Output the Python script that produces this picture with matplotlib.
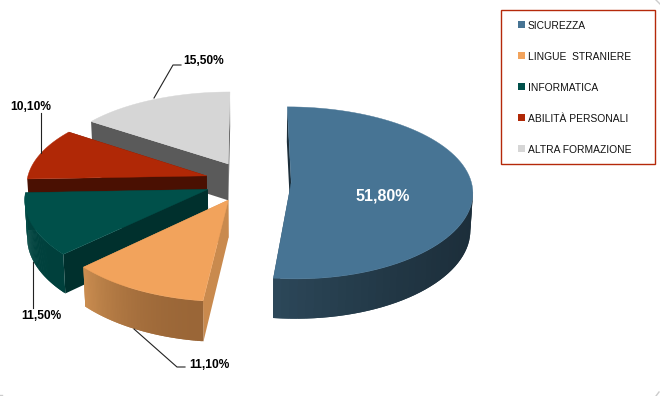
import numpy as np
import matplotlib
matplotlib.use('Agg')
import matplotlib.pyplot as plt
from matplotlib.patches import Polygon, Rectangle

plt.rcParams['font.family'] = ['Liberation Sans', 'DejaVu Sans']

categories = ['SICUREZZA', 'LINGUE  STRANIERE', 'INFORMATICA', 'ABILITÀ PERSONALI', 'ALTRA FORMAZIONE']
values = [51.8, 11.1, 11.5, 10.1, 15.5]

top_colors = ['#477494', '#f2a35c', '#00504a', '#b02806', '#d6d6d6']
face_colors = ['#1c2e3a', '#c98a4e', '#00302d', '#4a1002', '#5a5a5a']
side_left = ['#2c4759', '#ca8d50', '#004a45', '#7a1b04', '#8a8a8a']
side_right = ['#1c2e3a', '#9a6637', '#00403c', '#7a1b04', '#8a8a8a']

# label text position, leader line (pixels)
label_pos = [(383, 196), (209, 365), (41, 316), (31, 107), (204, 61)]
leaders = [None,
           [(134, 329), (177, 367), (185, 367)],
           [(33, 262), (33, 308)],
           [(41, 113), (41, 153)],
           [(154, 98), (173, 65), (181, 65)]]

# projection of the pie
cx, cy = 248, 181.4
R, A = 180, 84.5
persp_x = 0.10
persp_y = 0.12
depth = 37
explode = 0.24


def project(X, Y, z=0.0):
    sx = 1 / (1 + persp_x * Y)
    sy = 1 / (1 + persp_y * Y)
    x = cx + R * X * sx * (1 - 0.012 * z / 40)
    y = cy - A * Y * sy + z * (sy * 0.55 + 0.45)
    return x, y


def lerp_col(c1, c2, t):
    a = np.array(matplotlib.colors.to_rgb(c1))
    b = np.array(matplotlib.colors.to_rgb(c2))
    return a + (b - a) * t


fig = plt.figure(figsize=(6.6, 3.96), dpi=100)
ax = fig.add_axes([0, 0, 1, 1])
ax.set_xlim(0, 660)
ax.set_ylim(396, 0)
ax.axis('off')

# clockwise angle from the top
edges = np.cumsum([0] + values) / 100 * 2 * np.pi
slices = []
for i in range(len(values)):
    mid = (edges[i] + edges[i + 1]) / 2
    ox, oy = explode * np.sin(mid), explode * np.cos(mid)
    a = np.linspace(edges[i], edges[i + 1], 80)
    slices.append((ox, oy, a, ox + np.sin(a), oy + np.cos(a)))

# back to front
for i in [4, 3, 0, 2, 1]:
    ox, oy, a, gx, gy = slices[i]
    # straight faces
    for k in (0, -1):
        xa, ya = project(ox, oy)
        xb, yb = project(gx[k], gy[k])
        xc, yc = project(gx[k], gy[k], depth)
        xd, yd = project(ox, oy, depth)
        ax.add_patch(Polygon([(xa, ya), (xb, yb), (xc, yc), (xd, yd)], fc=face_colors[i], ec='none'))
    # outer wall, each piece overlaps the next so no seams show
    visible = np.nonzero(np.cos(a) <= -0.05)[0]
    for j in visible[:-1]:
        n = min(j + 3, len(gx))
        upper = [project(gx[m], gy[m]) for m in range(j, n)]
        lower = [project(gx[m], gy[m], depth) for m in range(n - 1, j - 1, -1)]
        t = (j - visible[0]) / max(len(visible) - 2, 1)
        ax.add_patch(Polygon(upper + lower, fc=lerp_col(side_right[i], side_left[i], t ** 2), ec='none'))
    tx, ty = project(gx, gy)
    ax0, ay0 = project(ox, oy)
    ax.add_patch(Polygon(np.column_stack([np.r_[ax0, tx], np.r_[ay0, ty]]), fc=top_colors[i], ec=top_colors[i], lw=0.3))

# labels
for i, v in enumerate(values):
    txt = ('%.2f%%' % v).replace('.', ',')
    if i == 0:
        ax.text(*label_pos[i], txt, color='white', fontsize=11.5, fontweight='bold', ha='center', va='center')
    else:
        ax.text(*label_pos[i], txt, color='black', fontsize=8.64, fontweight='bold', ha='center', va='center')
    if leaders[i]:
        pts = np.array(leaders[i])
        ax.plot(pts[:, 0], pts[:, 1], color='#222222', lw=0.8)

# legend box
ax.add_patch(Rectangle((500.5, 9.5), 154, 154, fc='white', ec='#b5290a', lw=1))
for i, name in enumerate(categories):
    y = 25 + 31 * i
    ax.add_patch(Rectangle((518, y - 4), 7, 7, fc=top_colors[i], ec='none'))
    ax.text(528, y + 1, name, fontsize=7.4, color='#111111', va='center', ha='left')

# bits of the rounded frame at the corners
ax.plot([656, 660], [0, 4], color='#cccccc', lw=1)
ax.plot([656, 659], [396, 392], color='#cccccc', lw=1)
ax.plot([0, 2], [395, 395], color='#cccccc', lw=1)

fig.savefig('out.png', dpi=100)
